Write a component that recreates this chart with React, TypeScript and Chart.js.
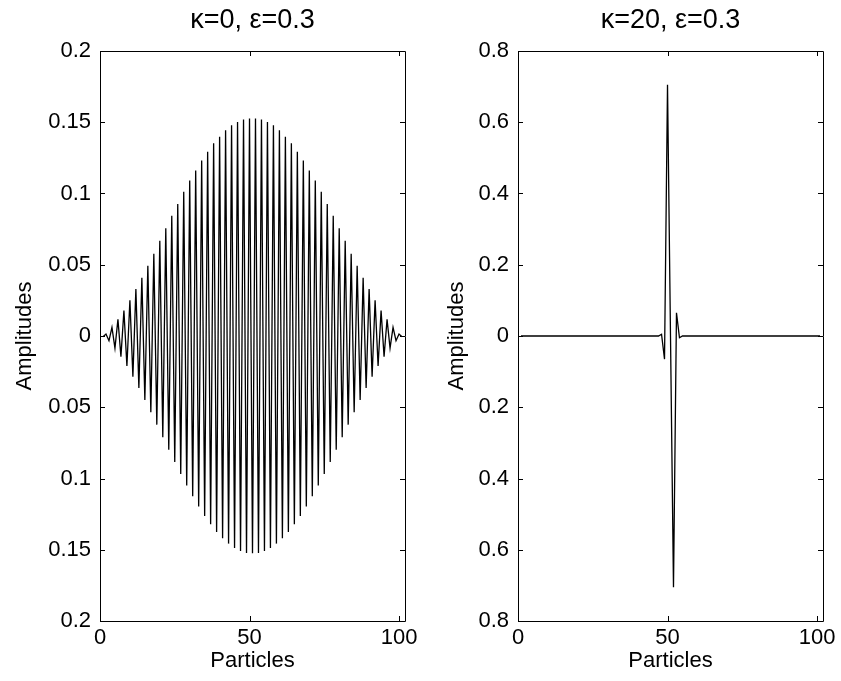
import React, { useEffect, useRef } from 'react';
import { Chart, registerables } from 'chart.js';

Chart.register(...registerables);

// Particle index 1..101
const particles: number[] = [
  1, 2, 3, 4, 5, 6, 7, 8, 9, 10, 11, 12, 13, 14, 15, 16, 17, 18, 19, 20,
  21, 22, 23, 24, 25, 26, 27, 28, 29, 30, 31, 32, 33, 34, 35, 36, 37, 38, 39, 40,
  41, 42, 43, 44, 45, 46, 47, 48, 49, 50, 51, 52, 53, 54, 55, 56, 57, 58, 59, 60,
  61, 62, 63, 64, 65, 66, 67, 68, 69, 70, 71, 72, 73, 74, 75, 76, 77, 78, 79, 80,
  81, 82, 83, 84, 85, 86, 87, 88, 89, 90, 91, 92, 93, 94, 95, 96, 97, 98, 99, 100, 101,
];

// κ=0, ε=0.3 amplitudes
const ampKappa0: number[] = [
  -0.0005, 0.0014, -0.0033, 0.0061, -0.0085, 0.0117, -0.0145, 0.0178, -0.0210, 0.0251,
  -0.0285, 0.0329, -0.0364, 0.0408, -0.0449, 0.0493, -0.0535, 0.0577, -0.0622, 0.0669,
  -0.0711, 0.0756, -0.0798, 0.0843, -0.0885, 0.0927, -0.0968, 0.1012, -0.1049, 0.1092,
  -0.1124, 0.1162, -0.1197, 0.1232, -0.1263, 0.1293, -0.1321, 0.1352, -0.1375, 0.1399,
  -0.1420, 0.1444, -0.1457, 0.1479, -0.1488, 0.1502, -0.1509, 0.1519, -0.1522, 0.1526,
  -0.1525,
  0.1526, -0.1522, 0.1519, -0.1509, 0.1502, -0.1488, 0.1479, -0.1457, 0.1444, -0.1420,
  0.1399, -0.1375, 0.1352, -0.1321, 0.1293, -0.1263, 0.1232, -0.1197, 0.1162, -0.1124,
  0.1092, -0.1049, 0.1012, -0.0968, 0.0927, -0.0885, 0.0843, -0.0798, 0.0756, -0.0711,
  0.0669, -0.0622, 0.0577, -0.0535, 0.0493, -0.0449, 0.0408, -0.0364, 0.0329, -0.0285,
  0.0251, -0.0210, 0.0178, -0.0145, 0.0117, -0.0085, 0.0061, -0.0033, 0.0014, -0.0005,
];

// κ=20, ε=0.3 amplitudes
const ampKappa20: number[] = [
  0, 0, 0, 0, 0, 0, 0, 0, 0, 0,
  0, 0, 0, 0, 0, 0, 0, 0, 0, 0,
  0, 0, 0, 0, 0, 0, 0, 0, 0, 0,
  0, 0, 0, 0, 0, 0, 0, 0, 0, 0,
  0, 0, 0, 0, 0, 0, 0, 0.005, -0.065, 0.705,
  0,
  -0.705, 0.065, -0.005, 0, 0, 0, 0, 0, 0, 0,
  0, 0, 0, 0, 0, 0, 0, 0, 0, 0,
  0, 0, 0, 0, 0, 0, 0, 0, 0, 0,
  0, 0, 0, 0, 0, 0, 0, 0, 0, 0,
  0, 0, 0, 0, 0, 0, 0, 0, 0, 0,
];

const xTicks: number[] = [0, 50, 100];
const xTickLabels: string[] = ['0', '50', '100'];

const yTicksLeft: number[] = [-0.2, -0.15, -0.1, -0.05, 0, 0.05, 0.1, 0.15, 0.2];
const yTickLabelsLeft: string[] = ['0.2', '0.15', '0.1', '0.05', '0', '0.05', '0.1', '0.15', '0.2'];

const yTicksRight: number[] = [-0.8, -0.6, -0.4, -0.2, 0, 0.2, 0.4, 0.6, 0.8];
const yTickLabelsRight: string[] = ['0.8', '0.6', '0.4', '0.2', '0', '0.2', '0.4', '0.6', '0.8'];

const FONT = "'Liberation Sans', Arial, Helvetica, sans-serif";

const framePlugin = {
  id: 'matlabFrame',
  afterDraw(chart: any, _args: any, opts: any) {
    const { ctx, chartArea } = chart;
    const { left, right, top, bottom } = chartArea;
    const xs = chart.scales.x;
    const ys = chart.scales.y;
    const L = 5;
    ctx.save();
    ctx.strokeStyle = '#000';
    ctx.lineWidth = 1;
    ctx.beginPath();
    ctx.rect(Math.round(left) + 0.5, Math.round(top) + 0.5, Math.round(right - left), Math.round(bottom - top));
    ctx.stroke();
    ctx.beginPath();
    xs.ticks.forEach((t: any) => {
      const px = Math.round(xs.getPixelForValue(t.value)) + 0.5;
      ctx.moveTo(px, bottom);
      ctx.lineTo(px, bottom - L);
      ctx.moveTo(px, top);
      ctx.lineTo(px, top + L);
    });
    ys.ticks.forEach((t: any) => {
      const py = Math.round(ys.getPixelForValue(t.value)) + 0.5;
      ctx.moveTo(left, py);
      ctx.lineTo(left + L, py);
      ctx.moveTo(right, py);
      ctx.lineTo(right - L, py);
    });
    ctx.stroke();
    // title centred over the axes box
    if (opts && opts.text) {
      ctx.fillStyle = '#000';
      ctx.font = `normal ${opts.size}px ${FONT}`;
      ctx.textAlign = 'center';
      ctx.textBaseline = 'alphabetic';
      ctx.fillText(opts.text, (left + right) / 2, opts.baseline);
    }
    ctx.restore();
  },
};

type PanelProps = {
  title: string;
  values: number[];
  yMin: number;
  yMax: number;
  yTicks: number[];
  yLabels: string[];
  yAxisWidth: number;
  yTitlePad: number;
  rightPad: number;
};

function Panel(props: PanelProps) {
  const ref = useRef<HTMLCanvasElement | null>(null);
  useEffect(() => {
    if (!ref.current) return;
    const chart = new Chart(ref.current, {
      type: 'line',
      data: {
        datasets: [
          {
            data: particles.map((p, i) => ({ x: p, y: props.values[i] })),
            borderColor: '#000',
            borderWidth: 1.3,
            pointRadius: 0,
            tension: 0,
            fill: false,
          },
        ],
      },
      options: {
        animation: false,
        responsive: false,
        maintainAspectRatio: false,
        devicePixelRatio: 1,
        layout: { padding: { left: 0, right: props.rightPad, top: 51, bottom: 0 } },
        plugins: {
          legend: { display: false },
          tooltip: { enabled: false },
          title: { display: false },
          matlabFrame: { text: props.title, size: 27, baseline: 28 },
        },
        scales: {
          x: {
            type: 'linear',
            min: 0,
            max: 102,
            grid: { display: false, drawTicks: false },
            border: { display: false },
            afterBuildTicks: (s: any) => {
              s.ticks = xTicks.map((v) => ({ value: v }));
            },
            afterFit: (s: any) => {
              s.height = 60;
              s.paddingLeft = 0;
              s.paddingRight = 0;
            },
            ticks: {
              color: '#000',
              font: { family: FONT, size: 22 },
              padding: 4,
              maxRotation: 0,
              autoSkip: false,
              callback: (v: any) => {
                const i = xTicks.indexOf(Number(v));
                return i >= 0 ? xTickLabels[i] : '';
              },
            },
            title: {
              display: true,
              text: 'Particles',
              color: '#000',
              font: { family: FONT, size: 22 },
              padding: { top: 0, bottom: 7 },
            },
          },
          y: {
            type: 'linear',
            min: props.yMin,
            max: props.yMax,
            grid: { display: false, drawTicks: false },
            border: { display: false },
            afterBuildTicks: (s: any) => {
              s.ticks = props.yTicks.map((v) => ({ value: v }));
            },
            afterFit: (s: any) => {
              s.width = props.yAxisWidth;
              s.paddingTop = 0;
              s.paddingBottom = 0;
            },
            ticks: {
              color: '#000',
              font: { family: FONT, size: 22 },
              padding: 9,
              autoSkip: false,
              callback: (v: any) => {
                const i = props.yTicks.findIndex((t) => Math.abs(t - Number(v)) < 1e-9);
                return i >= 0 ? props.yLabels[i] : '';
              },
            },
            title: {
              display: true,
              text: 'Amplitudes',
              color: '#000',
              font: { family: FONT, size: 22 },
              padding: { top: props.yTitlePad, bottom: 0 },
            },
          },
        },
      },
      plugins: [framePlugin],
    } as any);
    return () => chart.destroy();
  }, []);
  return <canvas ref={ref} width={420} height={681} style={{ display: 'block', width: 420, height: 681 }} />;
}

export default function App() {
  return (
    <div style={{ position: 'absolute', left: 0, top: 0, width: 841, height: 681, background: '#fff' }}>
      <div style={{ position: 'absolute', left: 0, top: 0 }}>
        <Panel
          title="κ=0, ε=0.3"
          values={ampKappa0}
          yMin={-0.2}
          yMax={0.2}
          yTicks={yTicksLeft}
          yLabels={yTickLabelsLeft}
          yAxisWidth={100}
          yTitlePad={12}
          rightPad={15}
        />
      </div>
      <div style={{ position: 'absolute', left: 420, top: 0 }}>
        <Panel
          title="κ=20, ε=0.3"
          values={ampKappa20}
          yMin={-0.8}
          yMax={0.8}
          yTicks={yTicksRight}
          yLabels={yTickLabelsRight}
          yAxisWidth={98}
          yTitlePad={24}
          rightPad={17}
        />
      </div>
    </div>
  );
}
